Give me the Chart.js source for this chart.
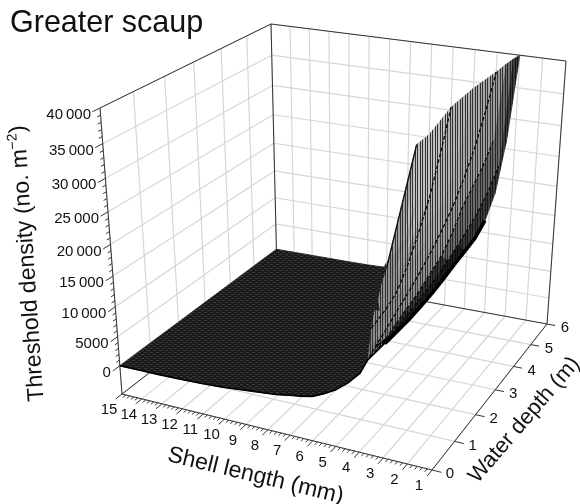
<!DOCTYPE html>
<html><head><meta charset="utf-8">
<style>html,body{margin:0;padding:0;background:#fff}canvas{display:block}</style>
<script src="https://cdn.jsdelivr.net/npm/chart.js@4"></script>
</head><body><canvas id="c" width="580" height="504"></canvas>
<script>
// ---- chart values ----
const chartTitle = "Greater scaup";
const shellTicks = [15,14,13,12,11,10,9,8,7,6,5,4,3,2,1];
const depthTicks = [0,1,2,3,4,5,6];
const densityTicks = [0,5000,10000,15000,20000,25000,30000,35000,40000];
const densityLabels = ["0","5000","10\u2009000","15\u2009000","20\u2009000","25\u2009000","30\u2009000","35\u2009000","40\u2009000"];
const meshShell = [15,14,13,12,11,10,9,7.6,7,6,5,4,3.6,3.3,3];
const meshDepth = [0,0.5,1,1.5,2,2.5,3,3.5,4,4.5,5,5.5,6];
const meshDensity = [
 [0,30,80,150,300,500,900,1400,1800,2500,4500,8000,11000,13000,13500],
 [0,30,80,150,300,500,900,1400,1900,2800,5200,9500,11000,12500,13500],
 [0,30,80,150,300,500,900,1400,2000,3100,6000,10800,12000,13000,13500],
 [0,30,80,150,300,500,900,1400,2100,3500,7000,12200,12800,13400,13700],
 [0,30,80,150,300,500,900,1400,2200,4000,8000,13500,13600,13900,14000],
 [0,30,80,150,300,500,900,1400,2300,4600,9200,15000,14800,14500,14500],
 [0,30,80,150,300,500,900,1400,2400,5300,10500,16700,15900,15500,15100],
 [0,30,80,150,300,500,900,1400,2600,6500,12500,18700,18000,16500,15600],
 [0,30,80,150,300,500,900,1500,3000,9500,15000,21000,20900,17600,16100],
 [0,30,80,150,300,500,800,1800,4500,13500,18500,24000,22800,19000,17500],
 [0,30,80,150,250,400,700,2500,8000,18000,22500,27500,24700,20800,20600],
 [0,30,80,100,150,300,500,8000,16000,24000,27500,32000,27400,23500,27900],
 [0,30,60,80,100,150,300,23500,25500,30500,34000,37000,38300,39200,40000]
];
// line where the flat dark sheet meets the hatched rise
const creaseShell = [9,8.3,7.4,6.3,5.5,4.6,3.7];
const creaseDepth = [6,5,4,3,2,1,0];
const creaseDensity = [300,700,2200,4900,9400,11000,10300];
// nearest edge of the sheet (water depth 0)
const frontShell = [4,4.5,5,5.5,6,6.5,7,7.6,9,10,11,12,13,14,15];
const frontDensity = [8000,6000,4500,3400,2500,2100,1800,1400,900,500,300,150,80,30,0];
// ---- view of the box: floor and top of the plot cube on the page ----
const floorQuad = [[122,394],[432,470],[547,324],[277,274]];
const topQuad = [[100,108],[443,166],[566,61],[271,24]];
const densityMin = -5000, densityMax = 40000, perspectiveK = 1.14;

function homography(q){
  const [p0,p1,p2,p3]=q;
  const dx1=p1[0]-p2[0],dx2=p3[0]-p2[0],sx=p0[0]-p1[0]+p2[0]-p3[0];
  const dy1=p1[1]-p2[1],dy2=p3[1]-p2[1],sy=p0[1]-p1[1]+p2[1]-p3[1];
  const den=dx1*dy2-dx2*dy1;
  const g=(sx*dy2-dx2*sy)/den,h=(dx1*sy-sx*dy1)/den;
  const a=p1[0]-p0[0]+g*p1[0],b=p3[0]-p0[0]+h*p3[0],c=p0[0];
  const d=p1[1]-p0[1]+g*p1[1],e=p3[1]-p0[1]+h*p3[1],f=p0[1];
  return (u,v)=>{const w=g*u+h*v+1;return [(a*u+b*v+c)/w,(d*u+e*v+f)/w];};
}
const floorH=homography(floorQuad), topH=homography(topQuad);
function project(shell,depth,dens){
  const u=(15-shell)/14,v=depth/6;
  const s=(dens-densityMin)/(densityMax-densityMin);
  const t=s/(s+perspectiveK*(1-s));
  const a=floorH(u,v),b=topH(u,v);
  return {x:a[0]+(b[0]-a[0])*t,y:a[1]+(b[1]-a[1])*t};
}
const GAP={x:NaN,y:NaN};
function segs(list){const o=[];list.forEach(s=>{o.push(project(...s[0]),project(...s[1]),GAP);});return o;}
function lineSet(data,color,width,extra){return Object.assign({data,showLine:true,pointRadius:0,borderColor:color,borderWidth:width,fill:false,tension:0,clip:false},extra||{});}

// ---- patterns ----
function tile(w,h,draw){const c=document.createElement('canvas');c.width=w;c.height=h;draw(c.getContext('2d'));return c.getContext('2d').createPattern(c,'repeat');}
const flatPat=tile(6,4,g=>{g.fillStyle='#1a1a1a';g.fillRect(0,0,6,4);g.fillStyle='#3a3a3a';g.fillRect(0,0,3,1);g.fillRect(3,2,3,1);});
function stripe(v,dk){return tile(5,1,g=>{g.fillStyle=`rgb(${v},${v},${v})`;g.fillRect(0,0,5,1);g.fillStyle=`rgb(${dk},${dk},${dk})`;g.fillRect(0,0,1,1);g.fillRect(2,0,1,1);});}
const stripeCache={};
function stripeFor(v){v=Math.round(v/6)*6;const dk=Math.min(50,v*0.35);return stripeCache[v]||(stripeCache[v]=stripe(v,dk));}
const colLight=[0,0,0,0,0,0,190,190,190,180,170,155,110,60];

function cellStyle(j,i){
  const zs=[meshDensity[j][i],meshDensity[j][i+1],meshDensity[j+1][i],meshDensity[j+1][i+1]];
  const avg=zs.reduce((a,b)=>a+b,0)/4;
  let v=colLight[i];
  if(i>=12&&avg<16000) v*=0.5;
  else if(avg<8000) v*=0.75; else if(avg<12000) v*=0.85; else if(avg<16000) v*=0.92;
  return stripeFor(v);
}

const sets=[];
// walls and floor grid
const gridSegs=[];
depthTicks.forEach(d=>{gridSegs.push([[15,d,densityMin],[15,d,densityMax]]);gridSegs.push([[15,d,densityMin],[1,d,densityMin]]);});
shellTicks.forEach(x=>{gridSegs.push([[x,6,densityMin],[x,6,densityMax]]);gridSegs.push([[x,0,densityMin],[x,6,densityMin]]);});
densityTicks.forEach(z=>{gridSegs.push([[15,0,z],[15,6,z]]);gridSegs.push([[15,6,z],[1,6,z]]);});
sets.push(lineSet(segs(gridSegs),'#d6d6d6',1.2));
// frame
const frame=[[[15,0,densityMax],[15,6,densityMax]],[[15,6,densityMax],[1,6,densityMax]],[[1,6,densityMax],[1,6,densityMin]],
 [[15,6,densityMax],[15,6,densityMin]],[[15,0,densityMin],[15,6,densityMin]],[[15,6,densityMin],[1,6,densityMin]],
 [[15,0,densityMin],[15,0,densityMax]],[[15,0,densityMin],[1,0,densityMin]],[[1,0,densityMin],[1,6,densityMin]]];
// ticks
for(let z=0;z<=40000;z+=1000){frame.push([[15,0,z],[15,z%5000===0?-0.22:-0.1,z]]);}
for(let k=0;k<=70;k++){const x=15-k*0.2;const major=k%5===0;frame.push([[x,0,densityMin],[x,major?-0.2:-0.1,densityMin]]);}
depthTicks.forEach(d=>frame.push([[1,d,densityMin],[0.62,d,densityMin]]));
sets.push(lineSet(segs(frame),'#333',1));
// surface, back to front
const nRows=meshDepth.length,nCols=meshShell.length;
for(let j=nRows-2;j>=0;j--){
  const order=[];for(let i=6;i<=8;i++)order.push(i);for(let i=nCols-2;i>8;i--)order.push(i);
  order.forEach(i=>{
    const q=[[meshShell[i],meshDepth[j]],[meshShell[i+1],meshDepth[j]],[meshShell[i+1],meshDepth[j+1]],[meshShell[i],meshDepth[j+1]]];
    const zz=[meshDensity[j][i],meshDensity[j][i+1],meshDensity[j+1][i+1],meshDensity[j+1][i]];
    const pts=q.map((p,k)=>project(p[0],p[1],zz[k]));pts.push(pts[0]);
    const st=cellStyle(j,i);
    sets.push(lineSet(pts,st,0.8,{fill:'shape',backgroundColor:st}));
  });
}
// lines along the hatched rise
[9,11,12,13].forEach(i=>{
  const pts=[];const last=(i>=12)?nRows-2:nRows-1;
  for(let j=0;j<=last;j++){if(meshDensity[j][i]>=1500)pts.push(project(meshShell[i],meshDepth[j],meshDensity[j][i]));}
  sets.push(lineSet(pts,'#080808',1.3,{borderDash:[4,2]}));
});
// back edge of the rise
sets.push(lineSet([project(9,6,meshDensity[nRows-1][6]),project(7.6,6,meshDensity[nRows-1][7])],'#111',1.4));
// dark band along the lower right edge
const band=[];
for(let j=0;j<=9;j++)band.push(project(3,meshDepth[j],meshDensity[j][nCols-1]));
sets.push(lineSet(band,'#000',3.5));
// flat sheet in front of the rise
const sheet=[];
meshShell.forEach((x,i)=>{if(x>=9)sheet.push(project(x,6,meshDensity[nRows-1][i]));});
creaseShell.forEach((x,i)=>sheet.push(project(x,creaseDepth[i],creaseDensity[i])));
const front=frontShell.map((x,i)=>project(x,0,frontDensity[i]));
const sheetPts=sheet.concat(front);sheetPts.push(sheetPts[0]);
sets.push(lineSet(sheetPts,flatPat,0.8,{fill:'shape',backgroundColor:flatPat}));
const frontEdge=[project(3,1,meshDensity[2][nCols-1]),project(creaseShell[6],0,creaseDensity[6])].concat(front);
sets.push(lineSet(frontEdge,'#000',1.6));
sets.reverse();

const textPlugin={id:'labels',afterDraw(chart){
  const ctx=chart.ctx,X=chart.scales.x,Y=chart.scales.y;
  const px=p=>[X.getPixelForValue(p.x),Y.getPixelForValue(p.y)];
  ctx.save();ctx.fillStyle='#111';
  const F='"Liberation Sans",Arial,sans-serif';
  ctx.textBaseline='alphabetic';ctx.textAlign='left';
  ctx.font='30.5px '+F;ctx.fillText(chartTitle,10,32);
  ctx.font='15px '+F;ctx.textBaseline='middle';
  ctx.textAlign='right';
  densityTicks.forEach((z,i)=>{const p=px(project(15,0,z));ctx.fillText(densityLabels[i],p[0]-9,p[1]+7);});
  ctx.textAlign='center';
  shellTicks.forEach(x=>{const p=px(project(x,0,densityMin));ctx.fillText(String(x),p[0]-13,p[1]+16);});
  depthTicks.forEach(d=>{const p=px(project(1,d,densityMin));ctx.fillText(String(d),p[0]+18,p[1]+4);});
  ctx.font='23px '+F;ctx.textBaseline='alphabetic';
  ctx.save();ctx.translate(254,482);ctx.rotate(13.6*Math.PI/180);ctx.fillText('Shell length (mm)',0,0);ctx.restore();
  ctx.font='22px '+F;
  ctx.save();ctx.translate(529,424);ctx.rotate(-49.4*Math.PI/180);ctx.fillText('Water depth (m)',0,0);ctx.restore();
  ctx.font='23px '+F;
  ctx.save();ctx.translate(34,263);ctx.rotate((-90-3.9)*Math.PI/180);
  const a='Threshold density (no. m',b='\u22122',c=')';
  const wa=ctx.measureText(a).width,wc=ctx.measureText(c).width;
  ctx.font='14px '+F;const wb=ctx.measureText(b).width;
  let x0=-(wa+wb+wc)/2;
  ctx.font='23px '+F;ctx.textAlign='left';ctx.fillText(a,x0,0);
  ctx.font='14px '+F;ctx.fillText(b,x0+wa,-9);
  ctx.font='23px '+F;ctx.fillText(c,x0+wa+wb,0);
  ctx.restore();
  ctx.restore();
}};

new Chart(document.getElementById('c'),{
  type:'scatter',
  data:{datasets:sets},
  options:{responsive:false,animation:false,
    layout:{padding:0},
    plugins:{legend:{display:false},tooltip:{enabled:false},title:{display:false}},
    events:[],
    scales:{x:{type:'linear',display:false,min:0,max:580},y:{type:'linear',display:false,min:0,max:504,reverse:true}}
  },
  plugins:[textPlugin]
});
</script></body></html>
